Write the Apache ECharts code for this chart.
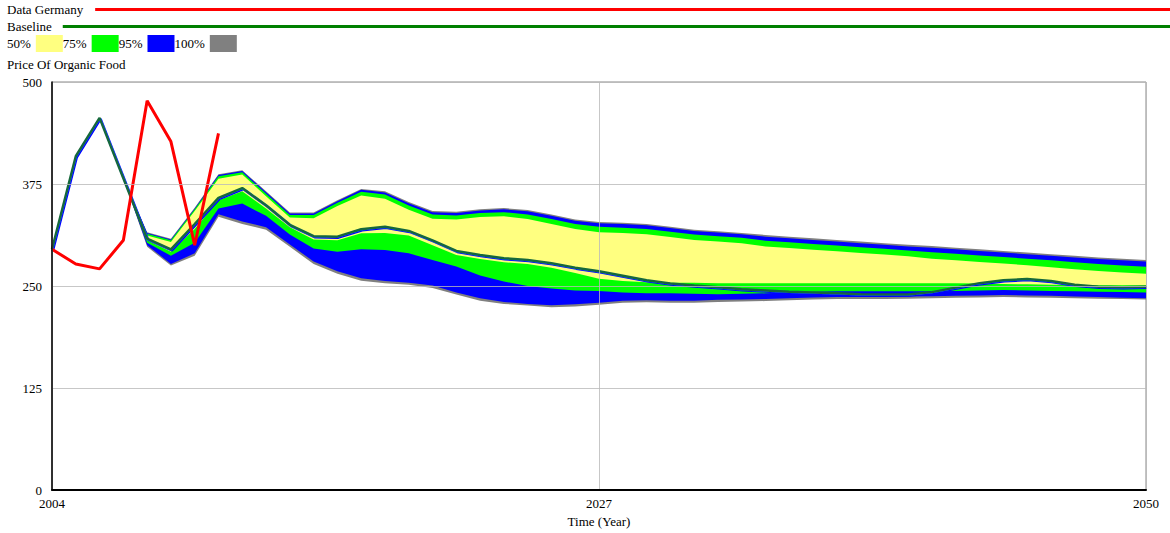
<!DOCTYPE html>
<html>
<head>
<meta charset="utf-8">
<script src="https://cdn.jsdelivr.net/npm/echarts@6/dist/echarts.min.js"></script>
<style>
  html, body { margin: 0; padding: 0; background: #fff; }
  #chart { width: 1170px; height: 533px; }
</style>
</head>
<body>
<div id="chart"></div>
<script>
// time axis, one point per year
const years = ['2004', '2005', '2006', '2007', '2008', '2009', '2010', '2011', '2012', '2013',
  '2014', '2015', '2016', '2017', '2018', '2019', '2020', '2021', '2022', '2023',
  '2024', '2025', '2026', '2027', '2028', '2029', '2030', '2031', '2032', '2033',
  '2034', '2035', '2036', '2037', '2038', '2039', '2040', '2041', '2042', '2043',
  '2044', '2045', '2046', '2047', '2048', '2049', '2050']

// historic data, 2004 - 2011
const dataGermany = [295, 277, 271, 306, 477, 427, 300, 437]

// baseline run, 2004 - 2050
const baseline = [295, 409, 456, 382, 308, 295, 326, 358, 370, 349, 325, 311, 310.5, 319.5, 322.5, 317.5,
  306, 293, 288, 284, 282, 278, 272.5, 268, 262.5, 257, 253, 250.5, 248.5, 246, 244.5, 243, 242, 241,
  240, 239.5, 239.5, 242.5, 248, 253.5, 257, 258.5, 256, 251.5, 249, 248.5, 249]

// sensitivity bounds, 2007 - 2050
const hi100 = [382, 316, 308, 346, 387, 392, 366, 340, 340, 355, 369, 366, 353, 342, 341, 344, 345.5, 343,
  337.5, 331.5, 328.5, 327.5, 326, 322.5, 319, 317, 315, 312.5, 310.5, 308.5, 306.5, 304.5, 302.5, 300.5,
  299, 297, 295, 293, 291, 289, 287, 285, 283.5, 282]
const hi95 = [382, 315, 307, 345, 386, 391, 365, 339, 339, 354, 368, 364.5, 351.5, 340.5, 339.5, 342.5, 344,
  341.5, 336, 330, 327, 326, 324.5, 321, 317.5, 315.5, 313.5, 310.5, 308.5, 306.5, 304.5, 302.5, 300.5,
  298.5, 297, 295, 293, 291, 289, 287, 285, 283, 281.5, 280]
const hi75 = [382, 314, 306, 344, 384.5, 389.5, 363, 337, 337, 352, 365.5, 362, 348.5, 337.5, 336.5, 339.5,
  340.5, 337.5, 332, 326, 322.5, 321.5, 320, 316.5, 313, 311, 309, 305.5, 303.5, 301.5, 299.5, 297.5, 295.5,
  293.5, 291.5, 289.5, 287.5, 285.5, 283.5, 281.5, 279, 277, 275, 273.5]
const hi50 = [382, 312, 304, 342, 381.5, 386.5, 360, 334, 333, 348, 361, 357, 343.5, 332.5, 331.5, 334.5,
  335.5, 332, 326, 320, 316, 315, 313.5, 310, 306.5, 304.5, 302.5, 298.5, 296.5, 294.5, 292.5, 290.5, 288.5,
  286.5, 283.5, 281.5, 279.5, 277.5, 275.5, 273, 270.5, 268.5, 266.5, 265]
const lo50 = [382, 306, 292, 320, 355, 366, 345, 322, 307, 306, 314.5, 315, 312, 300, 288, 283, 279, 277,
  272.5, 266, 259, 256, 254.5, 254, 254, 253.5, 253.5, 253.5, 253.5, 253.5, 253.5, 253.5, 253.5, 253.5,
  253.5, 253.5, 253, 252.5, 252, 251.5, 251.5, 251, 251, 251]
const lo75 = [382, 303, 287, 303, 345, 351, 336, 313, 296, 292, 295, 294, 290, 282, 274, 263, 255.5, 250,
  247, 244.5, 244, 242, 241, 241, 240.5, 240, 240.5, 241, 242, 243, 243.5, 243.5, 243.5, 243.5, 243.5, 244,
  244.5, 245, 244.5, 244, 243.5, 243, 242.5, 242]
const lo95 = [382, 300, 277, 290, 338, 329, 322, 301, 280, 268, 259.5, 256, 254, 250.5, 242, 235, 230.5, 228,
  226.5, 227.5, 229.5, 232, 232.5, 232, 232, 233, 233.5, 234, 235, 236, 236.5, 236.5, 236.5, 237, 237.5, 238,
  238.5, 239, 238.5, 238, 237, 236.5, 235.5, 235]
const lo100 = [382, 298, 275, 287, 335, 326, 319, 298, 277, 265, 256.5, 253.5, 251.5, 247.5, 239.5, 232, 228,
  226, 224, 225, 227, 229.5, 230, 229.5, 229.5, 230.5, 231, 231.5, 232.5, 233.5, 234, 234, 234, 234.5, 235,
  235.5, 236, 236.5, 236, 235.5, 235, 234.5, 234, 233.5]

const font = '"Liberation Serif", "Times New Roman", serif'
const lead = [null, null, null] // bands start in 2007

// each band = invisible lower line + stacked (upper - lower) area
function band(name, lo, hi, color) {
  return [{
    name: name + ' low',
    type: 'line',
    stack: name,
    data: lead.concat(lo),
    symbol: 'none',
    silent: true,
    lineStyle: { width: 0, opacity: 0 }
  }, {
    name: name,
    type: 'line',
    stack: name,
    data: lead.concat(hi.map((v, i) => v - lo[i])),
    symbol: 'none',
    silent: true,
    itemStyle: { color: color },
    lineStyle: { width: 0, opacity: 0 },
    areaStyle: { color: color, opacity: 1 }
  }]
}

const legendText = { fontFamily: font, fontSize: 13, color: '#000' }

const option = {
  animation: false,
  backgroundColor: '#fff',
  title: {
    text: 'Price Of Organic Food',
    left: 7,
    top: 58,
    padding: 0,
    textStyle: { fontFamily: font, fontSize: 13, fontWeight: 'normal', color: '#000' }
  },
  legend: [{
    data: ['Data Germany'],
    left: 7,
    top: 3,
    padding: 0,
    align: 'right',
    icon: 'rect',
    itemWidth: 1075,
    itemHeight: 3,
    selectedMode: false,
    textStyle: Object.assign({ padding: [0, 7, 0, 0] }, legendText)
  }, {
    data: ['Baseline'],
    left: 7,
    top: 20,
    padding: 0,
    align: 'right',
    icon: 'rect',
    itemWidth: 1109,
    itemHeight: 3,
    selectedMode: false,
    itemStyle: { color: '#008000', shadowBlur: 0, shadowOffsetX: 0, shadowOffsetY: 0 },
    textStyle: Object.assign({ padding: [0, 6, 0, 0] }, legendText)
  }, {
    data: ['50%', '75%', '95%', '100%'],
    left: 7,
    top: 35,
    padding: 0,
    align: 'right',
    icon: 'rect',
    itemWidth: 27,
    itemHeight: 17,
    itemGap: 0,
    selectedMode: false,
    textStyle: legendText
  }],
  grid: {
    left: 52,
    right: 24,
    top: 82,
    bottom: 43,
    show: true,
    borderColor: '#888',
    borderWidth: 1
  },
  xAxis: {
    type: 'category',
    data: years,
    boundaryGap: false,
    z: 5,
    name: 'Time (Year)',
    nameLocation: 'middle',
    nameGap: 23,
    nameTextStyle: { fontFamily: font, fontSize: 13, color: '#000' },
    axisLine: { lineStyle: { color: '#000', width: 2 } },
    axisTick: { show: false },
    axisLabel: { interval: 22, fontFamily: font, fontSize: 13, color: '#000', margin: 7 },
    splitLine: { show: true, interval: 22, lineStyle: { color: 'rgba(185,185,185,0.8)', width: 1 } }
  },
  yAxis: {
    type: 'value',
    min: 0,
    max: 500,
    interval: 125,
    z: 5,
    axisLine: { show: true, lineStyle: { color: '#000', width: 1.5 } },
    axisTick: { show: false },
    axisLabel: { fontFamily: font, fontSize: 13, color: '#000', margin: 10 },
    splitLine: { lineStyle: { color: 'rgba(185,185,185,0.8)', width: 1 } }
  },
  series: [
    ...band('100%', lo100, hi100, '#808080'),
    ...band('95%', lo95, hi95, '#0000ff'),
    ...band('75%', lo75, hi75, '#00ff00'),
    ...band('50%', lo50, hi50, '#ffff80'),
    {
      name: 'Baseline',
      type: 'line',
      data: baseline,
      symbol: 'none',
      itemStyle: { color: '#008000' },
      lineStyle: {
        width: 2.5,
        color: '#16683a',
        shadowColor: '#0000ff',
        shadowBlur: 1,
        shadowOffsetX: 1,
        shadowOffsetY: 1
      }
    },
    {
      name: 'Data Germany',
      type: 'line',
      data: dataGermany,
      symbol: 'none',
      itemStyle: { color: '#ff0000' },
      lineStyle: { width: 3, color: '#ff0000' }
    }
  ]
}

const chart = echarts.init(document.getElementById('chart'), null, { renderer: 'svg' })
chart.setOption(option)
</script>
</body>
</html>
